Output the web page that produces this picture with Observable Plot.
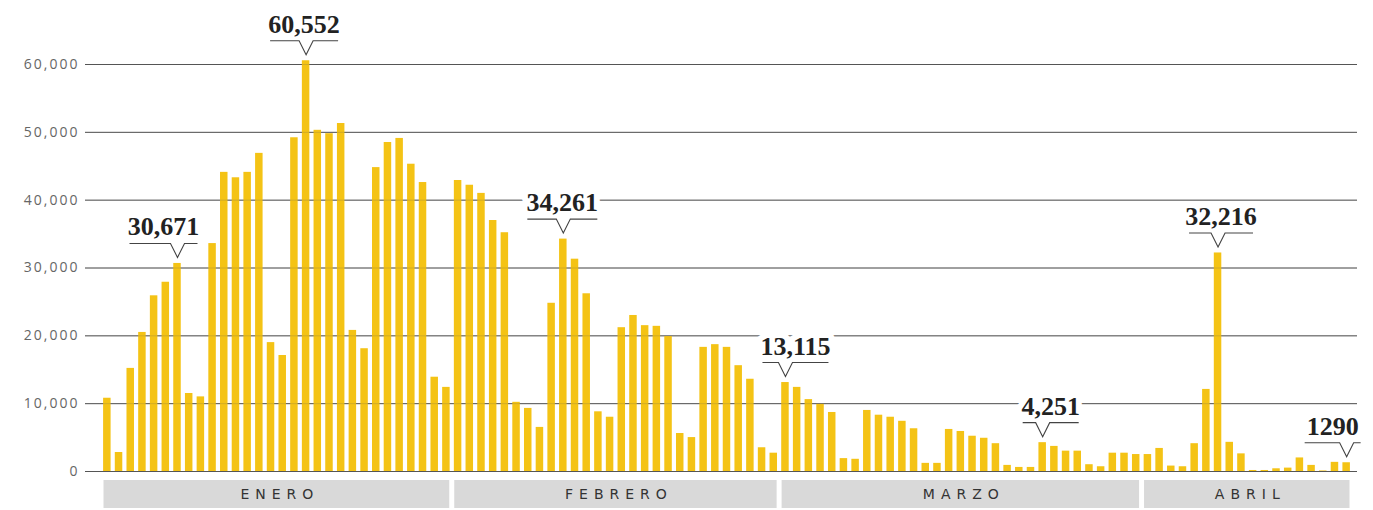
<!DOCTYPE html>
<html>
<head>
<meta charset="utf-8">
<script src="https://cdn.jsdelivr.net/npm/d3@7"></script>
<script src="https://cdn.jsdelivr.net/npm/@observablehq/plot@0.6"></script>
<style>
  body { margin: 0; background: #fff; }
  #chart { position: relative; width: 1373px; height: 510px; }
  #chart svg { display: block; position: absolute; left: 0; }
</style>
</head>
<body>
<div id="chart"></div>
<script>
// Daily values (bars)
const values = [
  10800, 2800, 15200, 20500, 25900, 27900, 30671, 11500, 11000, 33600,
  44100, 43300, 44100, 46900, 19000, 17100, 49200, 60552, 50300, 49800,
  51300, 20800, 18100, 44800, 48500, 49100, 45300, 42600, 13900, 12400,
  42900, 42200, 41000, 37000, 35200, 10200, 9300, 6500, 24800, 34261,
  31300, 26200, 8800, 8000, 21200, 23000, 21500, 21400, 19900, 5600,
  5000, 18300, 18700, 18300, 15600, 13600, 3500, 2700, 13115, 12400,
  10600, 9900, 8700, 1900, 1800, 9000, 8300, 8000, 7400, 6300,
  1200, 1200, 6200, 5900, 5200, 4900, 4100, 900, 600, 600,
  4251, 3700, 3000, 3000, 1000, 700, 2700, 2700, 2500, 2500,
  3400, 800, 700, 4100, 12100, 32216, 4300, 2600, 150, 150,
  400, 500, 2000, 900, 80, 1350, 1290
];
const months = ["ENERO", "FEBRERO", "MARZO", "ABRIL"];
const monthDays = [30, 28, 31, 18];
const yTicks = [0, 10000, 20000, 30000, 40000, 50000, 60000];
const highlightIdx = [6, 17, 39, 58, 80, 95, 106];
const highlightLabels = ["30,671", "60,552", "34,261", "13,115", "4,251", "32,216", "1290"];

// styling for annotation placement (pixels)
const labelShift = [-14, -2, -1, 10, 8, 3, -14];
const lineHalf = [34, 34, 35, 33, 28, 32, 28];

const data = values.map((v, i) => ({i, v}));
let acc = 0;
const monthData = months.map((name, k) => {
  const start = acc; acc += monthDays[k];
  return {name, start, end: acc - 1};
});
const ann = highlightIdx.map((i, k) => ({i, v: values[i], label: highlightLabels[k], k}));

const xDomain = [-0.5, values.length - 0.5];
const W = 1373;

function caret(l, r) {
  return {
    draw(ctx) {
      ctx.moveTo(l, -14);
      ctx.lineTo(-7, -14);
      ctx.lineTo(0, 0);
      ctx.lineTo(7, -14);
      ctx.lineTo(r, -14);
    }
  };
}

const annMarks = ann.flatMap(a => [
  Plot.text([a], {
    x: "i", y: "v", text: "label",
    dx: labelShift[a.k], dy: -28, lineAnchor: "bottom",
    fontFamily: "Liberation Serif", fontWeight: "bold", fontSize: 26,
    fill: "#222", stroke: "white", strokeWidth: 12, paintOrder: "stroke"
  }),
  Plot.dot([a], {
    x: "i", y: "v", dy: -6, r: 5,
    symbol: caret(labelShift[a.k] - lineHalf[a.k], labelShift[a.k] + lineHalf[a.k]),
    fill: "none", stroke: "#444", strokeWidth: 1.1
  })
]);

const main = Plot.plot({
  width: W, height: 486,
  marginLeft: 85, marginRight: 16, marginTop: 64, marginBottom: 15,
  style: {background: "transparent"},
  x: {domain: xDomain, insetLeft: 16, insetRight: 5, axis: null},
  y: {domain: [0, 60000], axis: null},
  marks: [
    Plot.ruleY(yTicks, {stroke: "#555", strokeWidth: 1}),
    Plot.rectY(data, {
      x1: d => d.i - 0.5, x2: d => d.i + 0.5, y: "v",
      fill: "#F4C315", insetLeft: 2.1, insetRight: 2.1
    }),
    Plot.ruleY(yTicks, {stroke: "#555", strokeWidth: 1, strokeOpacity: 0.22}),
    Plot.axisY(yTicks, {
      tickSize: 0, tickPadding: 6, tickFormat: d3.format(","),
      fontSize: 14, fontFamily: "Open Sans", fill: "#666", label: null
    }),
    ...annMarks
  ]
});

const bands = Plot.plot({
  width: W, height: 36,
  marginLeft: 85, marginRight: 16, marginTop: 6, marginBottom: 2,
  style: {background: "transparent"},
  x: {domain: xDomain, insetLeft: 16, insetRight: 5, axis: null},
  marks: [
    Plot.rect(monthData, {
      x1: d => d.start - 0.5, x2: d => d.end + 0.5,
      fill: "#d9d9d9", insetLeft: 2.5, insetRight: 2.5
    }),
    Plot.text(monthData, {
      x: d => (d.start + d.end) / 2, text: "name", dx: 3,
      fontSize: 14, fontFamily: "DejaVu Sans", fill: "#333"
    })
  ]
});

const chart = document.getElementById("chart");
main.style.top = "0px";
bands.style.top = "474px";
chart.appendChild(main);
chart.appendChild(bands);

d3.select(main).selectAll("[aria-label='y-axis tick label'] text").style("letter-spacing", "2px");
d3.select(bands).selectAll("text").style("letter-spacing", "6px");
</script>
</body>
</html>
